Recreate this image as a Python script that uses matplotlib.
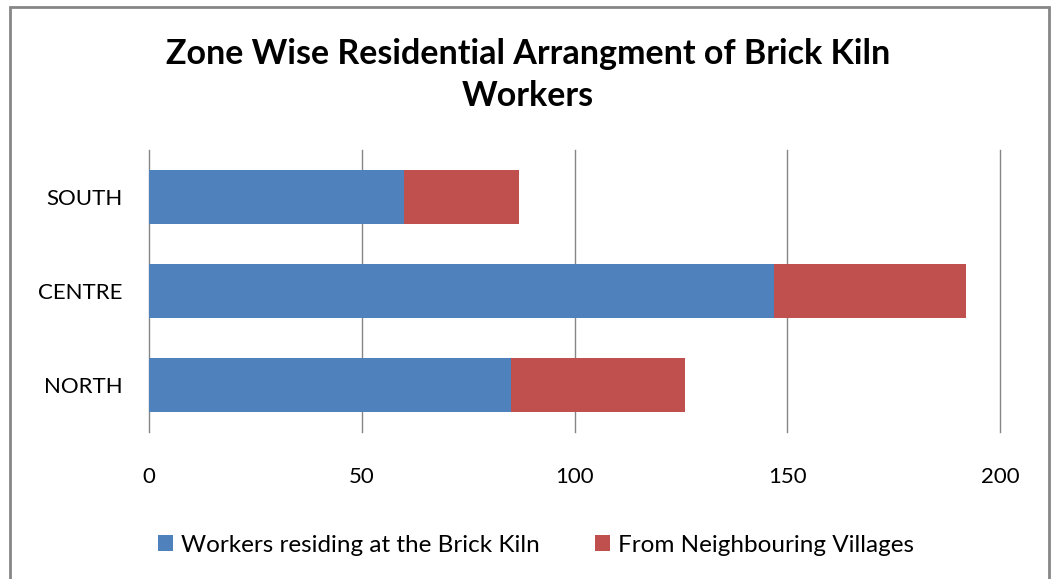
import matplotlib.pyplot as plt
from matplotlib.patches import Rectangle

# data
zones = ['NORTH', 'CENTRE', 'SOUTH']
at_kiln = [85, 147, 60]
from_villages = [41, 45, 27]
x_ticks = [0, 50, 100, 150, 200]

blue = '#4F81BD'
red = '#C0504D'
grid_col = '#868686'

plt.rcParams['font.family'] = ['Lato', 'DejaVu Sans']

fig = plt.figure(figsize=(10.52, 5.79), dpi=100)
ax = fig.add_axes([149 / 1052, 1 - 432 / 579, (1000 - 149) / 1052, (432 - 150) / 579])

ax.barh(zones, at_kiln, height=0.57, color=blue, label='Workers residing at the Brick Kiln', zorder=3)
ax.barh(zones, from_villages, left=at_kiln, height=0.57, color=red,
        label='From Neighbouring Villages', zorder=3)

ax.set_xlim(0, 200)
ax.set_ylim(-0.5, 2.5)
ax.set_xticks(x_ticks)
ax.grid(axis='x', color=grid_col, linewidth=1, zorder=0)
for g in ax.get_xgridlines():
    g.set_clip_on(False)
for s in ax.spines.values():
    s.set_visible(False)
ax.tick_params(axis='x', length=0, pad=25, labelsize=16)
ax.tick_params(axis='y', length=0, pad=19, labelsize=16)

fig.text(0.502, 1 - 75 / 579, 'Zone Wise Residential Arrangment of Brick Kiln\nWorkers',
         ha='center', va='center', fontsize=24.5, fontweight='bold', linespacing=1.38)

handles, labels = ax.get_legend_handles_labels()
fig.legend(handles, labels, loc='center', bbox_to_anchor=(536 / 1052, 1 - 545 / 579), ncol=2,
           frameon=False, fontsize=17.5, handlelength=0.62, handleheight=0.62,
           handletextpad=0.3, columnspacing=2.3)

fig.patches.append(Rectangle((10 / 1052, -0.05), (1049 - 10) / 1052, 1.05 - 7 / 579,
                             transform=fig.transFigure, fill=False,
                             edgecolor=grid_col, linewidth=2))

fig.savefig('out.png', dpi=100)
